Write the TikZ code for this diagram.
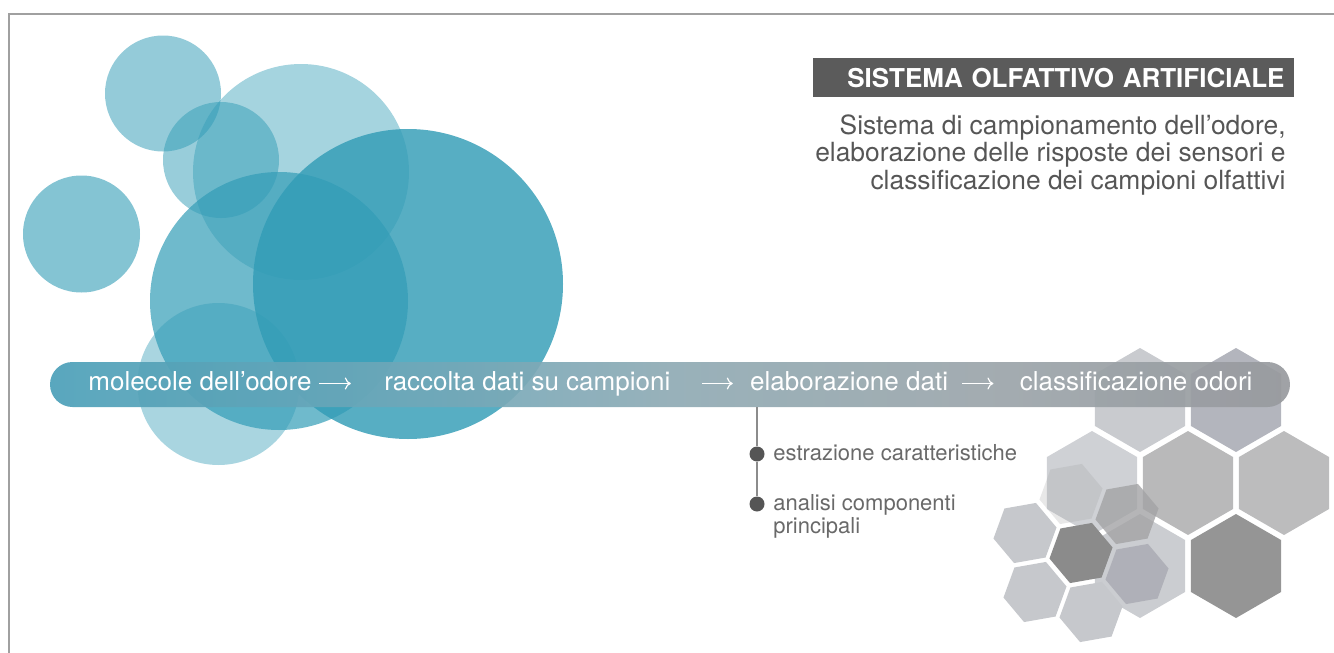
\documentclass[tikz,border=0pt]{standalone}
\usepackage{fontspec}
\setmainfont{TeX Gyre Heros}
\usetikzlibrary{arrows.meta,positioning}

\definecolor{blob}{RGB}{50,156,182}
\definecolor{barA}{RGB}{75,160,184}
\definecolor{barB}{RGB}{112,168,185}
\definecolor{barC}{RGB}{143,170,180}
\definecolor{barD}{RGB}{155,165,170}
\definecolor{barE}{RGB}{152,154,158}
\definecolor{framegray}{RGB}{160,160,160}
\definecolor{titlegray}{RGB}{91,91,91}
\definecolor{subgray}{RGB}{86,86,86}
\definecolor{itemgray}{RGB}{105,105,105}
\definecolor{dotgray}{RGB}{85,85,85}
\definecolor{stemgray}{RGB}{140,140,140}
\definecolor{hexA}{RGB}{201,203,207}
\definecolor{hexB}{RGB}{179,181,189}
\definecolor{hexC}{RGB}{185,185,186}
\definecolor{hexD}{RGB}{188,188,189}
\definecolor{hexE}{RGB}{207,209,213}
\definecolor{hexF}{RGB}{149,149,149}
\definecolor{hexG}{RGB}{203,205,209}
\definecolor{hexS}{RGB}{198,200,204}
\definecolor{hexK}{RGB}{139,139,139}
\definecolor{hexM}{RGB}{163,163,165}
\definecolor{hexN}{RGB}{171,172,180}

\pgfdeclarehorizontalshading{barshade}{100bp}{color(0bp)=(barA); color(25bp)=(barA); color(40bp)=(barB); color(50bp)=(barC); color(62.5bp)=(barD); color(75bp)=(barE); color(100bp)=(barE)}

\begin{document}
\begin{tikzpicture}[
    x=0.5pt, y=-0.5pt,
    frame/.style={draw=framegray, line width=1pt},
    bar/.style={shade, shading=barshade, opacity=0.92, rounded corners=11.25pt, minimum width=620pt, minimum height=22.5pt, inner sep=0pt},
    stage/.style={text=white, font=\fontsize{13}{15}\selectfont, inner sep=0pt, text height=9.5pt, text depth=2.5pt},
    flow/.style={draw=white, line width=0.6pt, -{To[length=3pt,width=6pt]}},
    titlebox/.style={fill=titlegray, text=white, font=\fontsize{13}{15}\selectfont\bfseries, text width=231.5pt, align=right, inner xsep=4.5pt, inner ysep=0pt, minimum height=19.5pt},
    subtitle/.style={text=subgray, font=\fontsize{13.2}{11.5}\selectfont, align=right, inner sep=0pt},
    dot/.style={circle, fill=dotgray, minimum size=7.5pt, inner sep=0pt},
    stem/.style={draw=stemgray, line width=0.9pt},
    item/.style={text=itemgray, font=\fontsize{11}{11.5}\selectfont, align=left, inner sep=0pt}]

    \useasboundingbox (0,0) rectangle (1334,653);

    % bubbles
    \foreach \bx/\by/\br/\bo in {163/93.5/58/0.52, 81.5/234/58.5/0.6, 301/172/108/0.44, 221/160/58/0.5,
                                 279/301/129/0.7, 408/284/155/0.82, 218.5/384/81/0.42}
        \fill[blob, fill opacity=\bo] (\bx,\by) circle[radius=\br];

    % honeycomb
    \foreach \hx/\hy/\hr/\ht/\hc/\ho in {1140/400/52/30/hexA/1, 1236/400/52/30/hexB/1,
                                         1092/483/52/30/hexE/1, 1188/483/52/30/hexC/1, 1284/483/52/30/hexD/1,
                                         1140/566/52/30/hexG/1, 1236/566/52/30/hexF/1,
                                         1071/494/32/-10/hexM/0.25, 1025/533/32/-10/hexS/1, 1127/514/32/-10/hexM/0.8,
                                         1081/553/32/-10/hexK/1, 1137/574/32/-10/hexN/0.85, 1035/592/32/-10/hexS/1,
                                         1091/612/32/-10/hexS/1}
        \fill[\hc, fill opacity=\ho] (\hx,\hy) +({\ht}:\hr) -- +({\ht+60}:\hr) -- +({\ht+120}:\hr)
            -- +({\ht+180}:\hr) -- +({\ht+240}:\hr) -- +({\ht+300}:\hr) -- cycle;

    % process bar
    \node [bar] (bar) at (670,384.5) {};
    \node [stage, anchor=base west] (mol) at (88,390) {molecole dell’odore};
    \node [stage, right=36pt of mol] (racc) {raccolta dati su campioni};
    \node [stage, right=39.5pt of racc] (elab) {elaborazione dati};
    \node [stage, right=35.5pt of elab] (clas) {classificazione odori};

    \draw [flow, shorten <=3.5pt, shorten >=16.5pt] ([yshift=3.25pt]mol.base east) -- ([yshift=3.25pt]racc.base west);
    \draw [flow, shorten <=15.5pt, shorten >=8.5pt] ([yshift=3.25pt]racc.base east) -- ([yshift=3.25pt]elab.base west);
    \draw [flow, shorten <=7pt, shorten >=13pt] ([yshift=3.25pt]elab.base east) -- ([yshift=3.25pt]clas.base west);

    % title and description
    \node [titlebox, anchor=north east] (title) at (1294,58) {SISTEMA OLFATTIVO ARTIFICIALE};
    \node [subtitle, anchor=north east] (sub) at ([xshift=-4pt, yshift=-8.5pt]title.south east)
          {Sistema di campionamento dell’odore,\\
           elaborazione delle risposte dei sensori e\\
           classificazione dei campioni olfattivi};

    % sub steps of elaborazione dati
    \node [dot] (d1) at (757,454) {};
    \node [dot] (d2) at (757,504) {};
    \draw [stem] (bar.south -| d1) -- (d1) -- (d2);
    \node [item, anchor=base west] (estr) at (773,460) {estrazione caratteristiche};
    \node [item, anchor=base west] (anal) at (773,533) {analisi componenti\\principali};

    % frame
    \draw [frame] (9,653) -- (9,14) -- (1334,14);
\end{tikzpicture}
\end{document}
